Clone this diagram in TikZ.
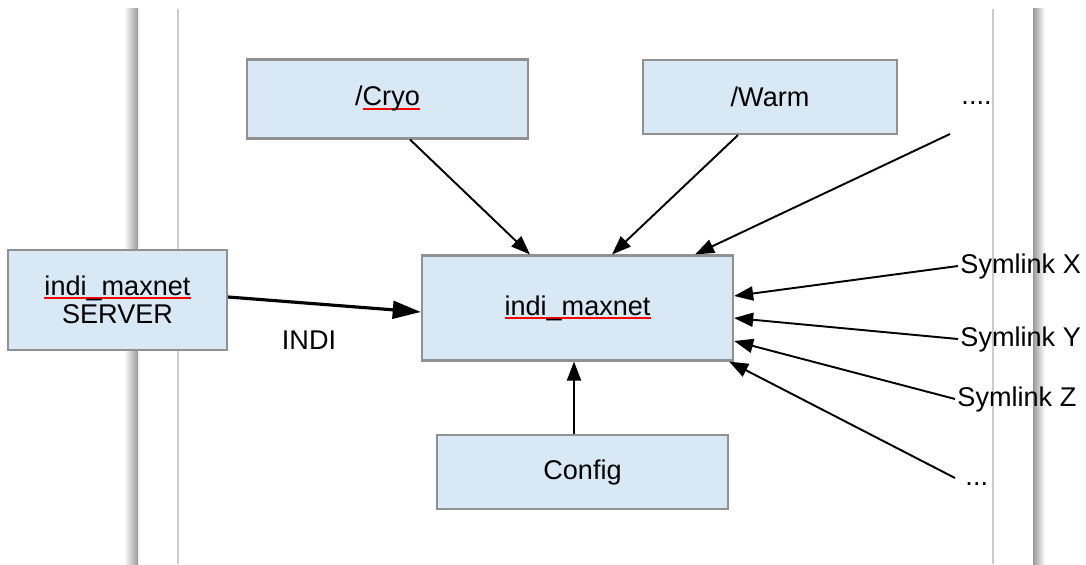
\documentclass[tikz,border=0pt]{standalone}
\usepackage{fontspec}
\setmainfont{Liberation Sans}
\usetikzlibrary{arrows.meta}

\definecolor{boxblue}{RGB}{216,232,245}
\definecolor{boxline}{RGB}{145,145,145}
\newsavebox{\spellbox}
\newcommand{\spell}[1]{\sbox{\spellbox}{#1}\rlap{\color{red}\rule[-1.05pt]{\wd\spellbox}{0.55pt}}\usebox{\spellbox}}

\begin{document}
\begin{tikzpicture}[x=0.01cm, y=-0.01cm,
    every node/.style={font=\fontsize{7.7}{8.1}\selectfont},
    block/.style={draw=boxline, line width=0.6pt, fill=boxblue, align=center, inner sep=0pt},
    feed/.style={-{Triangle[length=5.4pt,width=4pt]}, line width=0.55pt},
    heavy/.style={-{Triangle[length=8pt,width=5pt]}, line width=0.9pt},
    tag/.style={inner sep=0.5pt}]
    \useasboundingbox (0,0) rectangle (1086,564);
    % page edges
    \shade[left color=white, right color=black!40] (124,9) rectangle (138,564);
    \draw[black!20, line width=0.6pt] (178,9) -- (178,564);
    \draw[black!20, line width=0.6pt] (993,9) -- (993,564);
    \shade[left color=black!40, right color=white] (1033,9) rectangle (1045,564);
    % blocks
    \node[block, minimum width=2.81cm, minimum height=0.79cm] (cryo) at (387.5,99) {/\spell{Cryo}};
    \node[block, minimum width=2.54cm, minimum height=0.74cm] (warm) at (770,97) {/Warm};
    \node[block, minimum width=2.19cm, minimum height=1.00cm] (srv) at (117.5,300) {\spell{indi\_maxnet}\\SERVER};
    \node[block, minimum width=3.11cm, minimum height=1.05cm] (maxnet) at (577.5,308) {\spell{indi\_maxnet}};
    \node[block, minimum width=2.91cm, minimum height=0.74cm] (config) at (582.5,472) {Config};
    % labels
    \node[tag, anchor=base west] (dotsa) at (959,104) {....};
    \node[tag, anchor=west] (symx) at (958,266) {Symlink X};
    \node[tag, anchor=west] (symy) at (958,339) {Symlink Y};
    \node[tag, anchor=west] (symz) at (955,399) {Symlink Z};
    \node[tag, anchor=base west] (dotsb) at (963,485) {...};
    \node[tag] (indi) at (309,340) {INDI};
    \coordinate (enda) at (950,134);
    \coordinate (endb) at (955,478);
    % connectors
    \draw[feed] ([xshift=0.225cm]cryo.south) -- ([xshift=-0.475cm]maxnet.north);
    \draw[feed] ([xshift=-0.32cm]warm.south) -- ([xshift=0.345cm]maxnet.north);
    \draw[feed] (enda) -- ([xshift=1.175cm]maxnet.north);
    \draw[feed] (symx.west) -- ([yshift=0.12cm]maxnet.east);
    \draw[feed] (symy.west) -- ([yshift=-0.1cm]maxnet.east);
    \draw[feed] (symz.west) -- ([yshift=-0.33cm]maxnet.east);
    \draw[feed] (endb) -- ([xshift=-0.05cm]maxnet.south east);
    \draw[heavy] ([yshift=0.03cm]srv.east) -- ([yshift=-0.04cm]maxnet.west);
    \draw[feed] ([xshift=-0.085cm]config.north) -- ([xshift=-0.035cm]maxnet.south);
\end{tikzpicture}
\end{document}
